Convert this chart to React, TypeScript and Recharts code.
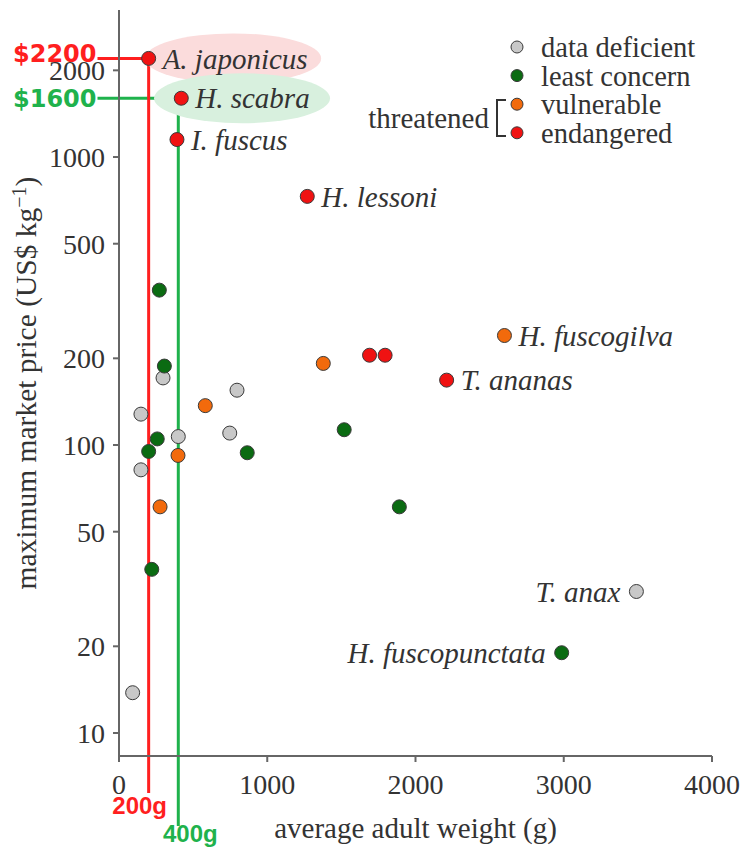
import {
  Legend,
  ReferenceDot,
  ReferenceLine,
  Scatter,
  ScatterChart,
  XAxis,
  YAxis,
} from "recharts";

// weight in g, price in US$ per kg
const dataDeficient = [
  { w: 297, p: 171 },
  { w: 796, p: 155 },
  { w: 148, p: 128 },
  { w: 747, p: 110 },
  { w: 400, p: 107 },
  { w: 148, p: 82 },
  { w: 3490, p: 31, name: "T. anax" },
  { w: 92, p: 13.8 },
];

const leastConcern = [
  { w: 272, p: 345 },
  { w: 306, p: 188 },
  { w: 258, p: 105 },
  { w: 200, p: 95 },
  { w: 865, p: 94 },
  { w: 1519, p: 113 },
  { w: 1891, p: 61 },
  { w: 221, p: 37 },
  { w: 2986, p: 19, name: "H. fuscopunctata" },
];

const vulnerable = [
  { w: 2600, p: 240, name: "H. fuscogilva" },
  { w: 1378, p: 192 },
  { w: 582, p: 137 },
  { w: 398, p: 92 },
  { w: 277, p: 61 },
];

const endangered = [
  { w: 200, p: 2200, name: "A. japonicus" },
  { w: 420, p: 1600, name: "H. scabra" },
  { w: 391, p: 1150, name: "I. fuscus" },
  { w: 1270, p: 730, name: "H. lessoni" },
  { w: 1690, p: 205 },
  { w: 1795, p: 205 },
  { w: 2210, p: 168, name: "T. ananas" },
];

const statusOrder = ["data deficient", "least concern", "vulnerable", "endangered"];
const xTicks = [0, 1000, 2000, 3000, 4000];
const yTicks = [10, 20, 50, 100, 200, 500, 1000, 2000];

// guide lines drawn to the two highlighted species
const guides = [
  { price: 2200, weight: 200, priceText: "$2200", weightText: "200g", color: "#ff1f1f" },
  { price: 1600, weight: 400, priceText: "$1600", weightText: "400g", color: "#1fb24c" },
];

const highlights = [
  { weight: 770, price: 2200, tint: "#fbdcdc" },
  { weight: 830, price: 1600, tint: "#d8f0de" },
];

const labelsOnLeft = ["T. anax", "H. fuscopunctata"];

const SERIF = '"Liberation Serif", "Times New Roman", serif';
const SANS = '"Liberation Sans", Arial, sans-serif';
const WIDE_SANS = '"DejaVu Sans", sans-serif';
const INK = "#333";
const AXIS = "#666";

const makePoint = (fill: string) => (props: any) => {
  const { cx, cy, payload } = props;
  const left = labelsOnLeft.includes(payload?.name);
  return (
    <g>
      <circle cx={cx} cy={cy} r={7} fill={fill} stroke="#3a3a3a" strokeWidth={1} />
      {payload?.name && (
        <text
          x={left ? cx - 16 : cx + 14}
          y={cy}
          dy="0.35em"
          textAnchor={left ? "end" : "start"}
          fontFamily={SERIF}
          fontStyle="italic"
          fontSize={29}
          fill={INK}
        >
          {payload.name}
        </text>
      )}
    </g>
  );
};

const LegendBox = ({ payload }: any) => {
  const rows = [...(payload ?? [])].sort(
    (a: any, b: any) => statusOrder.indexOf(a.value) - statusOrder.indexOf(b.value)
  );
  return (
    <svg width={380} height={150} style={{ display: "block" }}>
      {rows.map((entry: any, i: number) => {
        const cy = 27 + i * 28.6;
        return (
          <g key={entry.value}>
            <circle cx={157} cy={cy} r={6} fill={entry.color} stroke="#3a3a3a" />
            <text
              x={181}
              y={cy}
              dy="0.35em"
              fontFamily={SERIF}
              fontSize={28.5}
              fill={INK}
            >
              {entry.value}
            </text>
          </g>
        );
      })}
      <text x={129} y={98} dy="0.35em" textAnchor="end" fontFamily={SERIF} fontSize={29} fill={INK}>
        threatened
      </text>
      <path d="M146 80 H137 V116 H146" fill="none" stroke={INK} strokeWidth={2} />
    </svg>
  );
};

const yTitle = (props: any) => {
  const vb = props.viewBox ?? { x: 0, y: 10, width: 119, height: 746 };
  const cx = vb.x + 36;
  const cy = vb.y + vb.height / 2;
  return (
    <text
      x={cx}
      y={cy}
      transform={`rotate(-90 ${cx} ${cy})`}
      textAnchor="middle"
      fontFamily={SERIF}
      fontSize={29.5}
      fill={INK}
    >
      maximum market price (US$ kg
      <tspan dy={-10} fontSize={20}>
        −1
      </tspan>
      <tspan dy={10}>)</tspan>
    </text>
  );
};

const xTitle = (props: any) => {
  const vb = props.viewBox ?? { x: 119, y: 756, width: 593, height: 94 };
  return (
    <text
      x={vb.x + vb.width / 2}
      y={vb.y + 82}
      textAnchor="middle"
      fontFamily={SERIF}
      fontSize={29}
      fill={INK}
    >
      average adult weight (g)
    </text>
  );
};

const priceLabel = (text: string, color: string, lift: number) => (props: any) => {
  const vb = props.viewBox;
  return (
    <text
      x={vb.x - 1}
      y={vb.y - lift}
      dy="0.36em"
      textAnchor="end"
      fontFamily={WIDE_SANS}
      fontWeight="bold"
      fontSize={24}
      fill={color}
    >
      {text}
    </text>
  );
};

const weightLabel = (text: string, color: string, dx: number, dy: number) => (props: any) => {
  const vb = props.viewBox;
  return (
    <text
      x={vb.x + dx}
      y={vb.y + vb.height + dy}
      textAnchor="middle"
      fontFamily={SANS}
      fontWeight="bold"
      fontSize={24}
      fill={color}
    >
      {text}
    </text>
  );
};

const ellipse = (tint: string) => (props: any) => (
  <ellipse cx={props.cx} cy={props.cy} rx={88} ry={25} fill={tint} />
);

export default function App() {
  return (
    <div style={{ position: "absolute", left: 0, top: 0 }}>
      <ScatterChart
        width={741}
        height={850}
        margin={{ top: 10, right: 29, left: 0, bottom: 0 }}
      >
        <XAxis
          type="number"
          dataKey="w"
          domain={[0, 4000]}
          ticks={xTicks}
          allowDataOverflow
          height={94}
          stroke={AXIS}
          strokeWidth={2}
          tickSize={6}
          tickMargin={12}
          tick={{ fontFamily: SERIF, fontSize: 28, fill: INK }}
          label={xTitle}
        />
        <YAxis
          type="number"
          dataKey="p"
          scale="log"
          domain={[8.32, 3240]}
          ticks={yTicks}
          allowDataOverflow
          width={119}
          stroke={AXIS}
          strokeWidth={2}
          tickSize={6}
          tickMargin={8}
          tick={{ fontFamily: SERIF, fontSize: 28, fill: INK }}
          label={yTitle}
        />
        {highlights.map((h) => (
          <ReferenceDot
            key={h.tint}
            x={h.weight}
            y={h.price}
            ifOverflow="visible"
            shape={ellipse(h.tint)}
          />
        ))}
        {guides.map((g, i) => (
          <ReferenceLine
            key={`h-${g.priceText}`}
            segment={[
              { x: -145, y: g.price },
              { x: g.weight, y: g.price },
            ]}
            stroke={g.color}
            strokeWidth={3}
            ifOverflow="visible"
            label={priceLabel(g.priceText, g.color, i === 0 ? 5 : 0)}
          />
        ))}
        {guides.map((g, i) => (
          <ReferenceLine
            key={`v-${g.weightText}`}
            segment={[
              { x: g.weight, y: g.price },
              { x: g.weight, y: i === 0 ? 6.19 : 4.75 },
            ]}
            stroke={g.color}
            strokeWidth={3}
            ifOverflow="visible"
            label={weightLabel(g.weightText, g.color, i === 0 ? -9 : 12, i === 0 ? 21 : 16)}
          />
        ))}
        <Scatter
          name="data deficient"
          data={dataDeficient}
          fill="#c8c8c8"
          shape={makePoint("#c8c8c8")}
          isAnimationActive={false}
        />
        <Scatter
          name="least concern"
          data={leastConcern}
          fill="#0b6b12"
          shape={makePoint("#0b6b12")}
          isAnimationActive={false}
        />
        <Scatter
          name="vulnerable"
          data={vulnerable}
          fill="#f26a0c"
          shape={makePoint("#f26a0c")}
          isAnimationActive={false}
        />
        <Scatter
          name="endangered"
          data={endangered}
          fill="#f01212"
          shape={makePoint("#f01212")}
          isAnimationActive={false}
        />
        <Legend
          layout="vertical"
          align="center"
          verticalAlign="middle"
          content={<LegendBox />}
          wrapperStyle={{ left: 360, top: 20, width: 380, height: 150 }}
        />
      </ScatterChart>
    </div>
  );
}
